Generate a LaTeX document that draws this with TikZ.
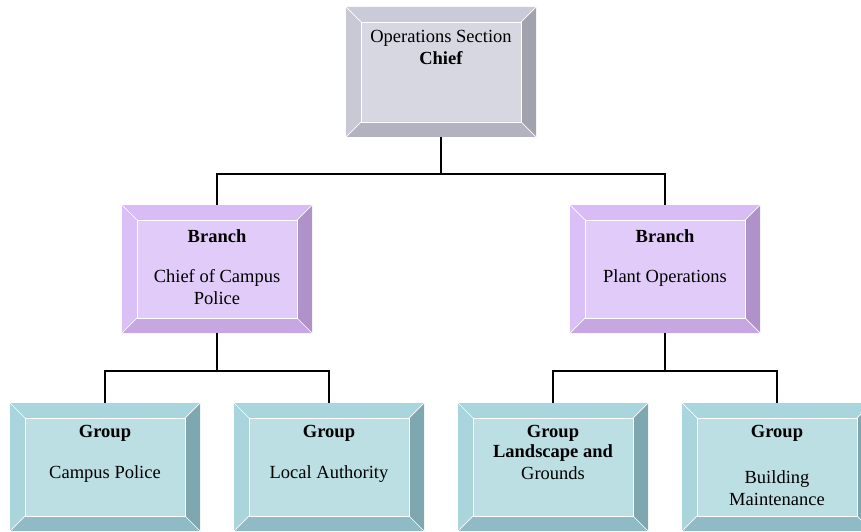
\documentclass[tikz,border=0pt]{standalone}
\usepackage{fontspec}
\setmainfont{Liberation Serif}
\usepackage{tikz}
\usetikzlibrary{positioning}
\definecolor{chiefface}{HTML}{D7D7E1}
\definecolor{chiefT}{HTML}{CACAD8}
\definecolor{chiefL}{HTML}{C9C9D6}
\definecolor{chiefR}{HTML}{A2A2AD}
\definecolor{chiefB}{HTML}{B2B2C0}
\definecolor{branchface}{HTML}{E1CCF9}
\definecolor{branchT}{HTML}{D9BBF5}
\definecolor{branchL}{HTML}{DAC0F6}
\definecolor{branchR}{HTML}{AE92C9}
\definecolor{branchB}{HTML}{C6A7E2}
\definecolor{groupface}{HTML}{BCDFE4}
\definecolor{groupT}{HTML}{A9D6DD}
\definecolor{groupL}{HTML}{AAD5DC}
\definecolor{groupR}{HTML}{7FA7B0}
\definecolor{groupB}{HTML}{90BAC5}
\newcommand{\boxtext}[3][98pt]{\begin{minipage}[t][#1][t]{160pt}\centering\vspace*{#2}#3\end{minipage}}
\tikzstyle{conn} = [draw=black, line width=1.5pt]
\tikzset{bevel/.style={rectangle, inner sep=15pt, fill=#1face,
    minimum width=190pt, minimum height=128pt,
    font=\fontsize{18.5}{22}\selectfont,
    path picture={
      \fill[#1T] (path picture bounding box.north west) -- (path picture bounding box.north east)
        -- ([shift={(-15pt,-15pt)}]path picture bounding box.north east)
        -- ([shift={(15pt,-15pt)}]path picture bounding box.north west) -- cycle;
      \fill[#1L] (path picture bounding box.north west) -- (path picture bounding box.south west)
        -- ([shift={(15pt,15pt)}]path picture bounding box.south west)
        -- ([shift={(15pt,-15pt)}]path picture bounding box.north west) -- cycle;
      \fill[#1R] (path picture bounding box.north east) -- (path picture bounding box.south east)
        -- ([shift={(-15pt,15pt)}]path picture bounding box.south east)
        -- ([shift={(-15pt,-15pt)}]path picture bounding box.north east) -- cycle;
      \fill[#1B] (path picture bounding box.south west) -- (path picture bounding box.south east)
        -- ([shift={(-15pt,15pt)}]path picture bounding box.south east)
        -- ([shift={(15pt,15pt)}]path picture bounding box.south west) -- cycle;
      \draw[white, line width=0.7pt] ([shift={(15pt,-15pt)}]path picture bounding box.north west)
        rectangle ([shift={(-15pt,15pt)}]path picture bounding box.south east);
      \draw[white, line width=0.7pt]
        (path picture bounding box.north west) -- ++(15pt,-15pt)
        (path picture bounding box.north east) -- ++(-15pt,-15pt)
        (path picture bounding box.south west) -- ++(15pt,15pt)
        (path picture bounding box.south east) -- ++(-15pt,15pt);
    }}}
\begin{document}
\begin{tikzpicture}[x=1pt, y=1pt]
  \clip (0,0) rectangle (861,531);
  \node[bevel=chief, minimum height=130pt] (chief) at (441,459)
    {\boxtext[100pt]{8pt}{Operations Section\\ \textbf{Chief}}};
  \node[bevel=branch] (police) at (217,262)
    {\boxtext{10pt}{\textbf{Branch}\\[18pt] Chief of Campus\\ Police}};
  \node[bevel=branch] (plant) at (665,262)
    {\boxtext{10pt}{\textbf{Branch}\\[18pt] Plant Operations}};
  \node[bevel=group] (campus) at (105,64)
    {\boxtext{7pt}{\textbf{Group}\\[19pt] Campus Police}};
  \node[bevel=group] (local) at (329,64)
    {\boxtext{7pt}{\textbf{Group}\\[19pt] Local Authority}};
  \node[bevel=group] (grounds) at (553,64)
    {\boxtext{7pt}{\textbf{Group}\\[-2pt] \textbf{Landscape and}\\ Grounds}};
  \node[bevel=group] (building) at (777,64)
    {\boxtext{7pt}{\textbf{Group}\\[24pt] Building\\ Maintenance}};
  % connectors
  \draw[conn] (chief.south) -- ++(0,-37) -| (police.north);
  \draw[conn] (chief.south) -- ++(0,-37) -| (plant.north);
  \draw[conn] (police.south) -- ++(0,-38) -| (campus.north);
  \draw[conn] (police.south) -- ++(0,-38) -| (local.north);
  \draw[conn] (plant.south) -- ++(0,-38) -| (grounds.north);
  \draw[conn] (plant.south) -- ++(0,-38) -| (building.north);
\end{tikzpicture}
\end{document}
